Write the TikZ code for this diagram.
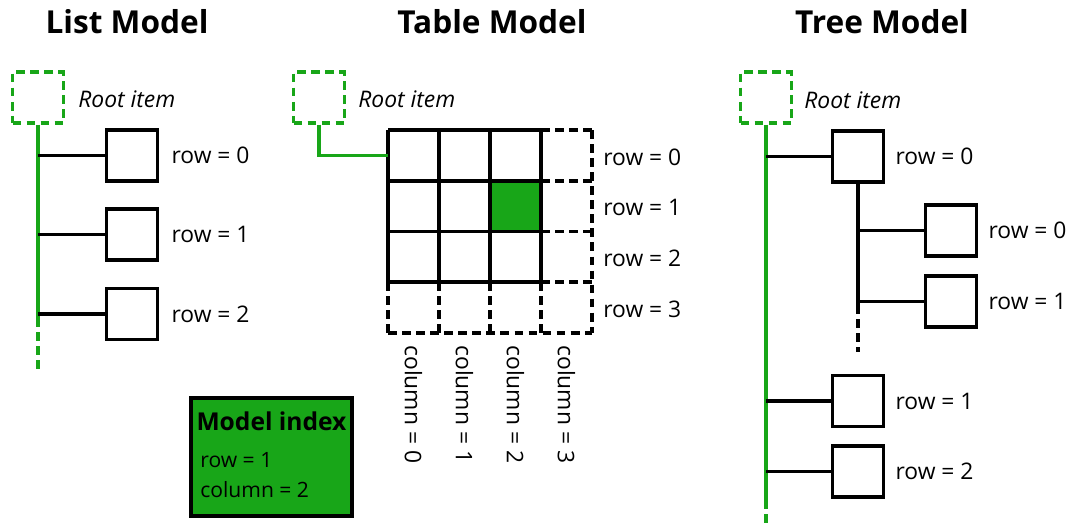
\documentclass[tikz,border=0pt]{standalone}
\usepackage{fontspec}
\setmainfont{Open Sans}
\usetikzlibrary{positioning}
\definecolor{qtgreen}{RGB}{24,166,24}
\tikzset{
	item/.style={draw, line width=2pt, minimum size=1.02cm, inner sep=0pt},
	rootitem/.style={item, line width=1.8pt, draw=qtgreen, dash pattern=on 5pt off 3pt},
	link/.style={line width=2pt},
	dashlink/.style={line width=2pt, dash pattern=on 5pt off 3pt},
	glink/.style={line width=1.8pt, draw=qtgreen},
	gdash/.style={glink, dash pattern=on 5pt off 3pt},
	lbl/.style={font=\fontsize{13}{15}\selectfont, anchor=west, inner sep=0pt},
	rootlbl/.style={lbl, font=\fontsize{13}{15}\selectfont\itshape},
	title/.style={font=\fontsize{18}{22}\selectfont\bfseries},
}

\begin{document}
\begin{tikzpicture}[x=0.02cm, y=-0.02cm]
		%%%%% START %%%%%
		\useasboundingbox (0, 0) rectangle (1073, 524);
		
		%%%%% LIST %%%%%
		\node[title] (listtitle) at (127, 22) {List Model};
		\node[rootitem] (lroot) at (38, 97.5) {};
		\node[rootlbl] (lrootlbl) at (78, 99) {Root item};
		
		\node[item] (l0) at (132, 155.5) {};
		\node[item] (l1) at (132, 234.5) {};
		\node[item] (l2) at (132, 314) {};
		\node[lbl, right=0.24cm of l0] {row = 0};
		\node[lbl, right=0.24cm of l1] {row = 1};
		\node[lbl, right=0.24cm of l2] {row = 2};
		
		\coordinate (lend) at (38, 318);
		\coordinate (ltail) at (38, 370);
		\draw[glink] (lroot.south) -- (lend);
		\draw[gdash] (lend) -- (ltail);
		\draw[link] (l0.west) -- (l0.west -| lroot);
		\draw[link] (l1.west) -- (l1.west -| lroot);
		\draw[link] (l2.west) -- (l2.west -| lroot);
		
		%%%%% TABLE %%%%%
		\node[title] (tabletitle) at (492, 22) {Table Model};
		\node[rootitem] (troot) at (319, 97.5) {};
		\node[rootlbl] (trootlbl) at (358, 99) {Root item};
		
		\node[draw=none, fill=qtgreen, minimum width=1.02cm, minimum height=1.015cm, inner sep=0pt] (t12) at (515.5, 206) {};
		\foreach \k in {0,...,3} {
			\draw[link] (388, 130+50.75*\k) -- (541, 130+50.75*\k);
			\draw[dashlink] (541, 130+50.75*\k) -- (592, 130+50.75*\k);
			\draw[link] (388+51*\k, 130) -- (388+51*\k, 282);
			\draw[dashlink] (388+51*\k, 282) -- (388+51*\k, 333);
		}
		\draw[dashlink] (592, 130) -- (592, 333);
		\draw[dashlink] (388, 333) -- (592, 333);
		
		\coordinate (tentry) at (388, 155.4);
		\draw[glink] (troot.south) |- (tentry);
		
		\foreach \k in {0,...,3} {
			\node[lbl] (trow\k) at (603, 157+50.75*\k) {row = \k};
			\node[lbl, rotate=-90] (tcol\k) at (413.5+51*\k, 345) {column = \k};
		}
		
		\node[draw, line width=2.5pt, fill=qtgreen, minimum width=3.22cm, minimum height=2.36cm] (index) at (271.5, 457) {};
		\node[font=\fontsize{14}{16}\selectfont\bfseries, inner sep=0pt] (indextitle) at (271.5, 421) {Model index};
		\node[lbl, font=\fontsize{12}{14}\selectfont] (indexrow) at (200, 460) {row = 1};
		\node[lbl, font=\fontsize{12}{14}\selectfont] (indexcol) at (200, 490) {column = 2};
		
		%%%%% TREE %%%%%
		\node[title] (treetitle) at (882, 22) {Tree Model};
		\node[rootitem] (rroot) at (766, 97.5) {};
		\node[rootlbl] (rrootlbl) at (804, 100) {Root item};
		
		\node[item] (r0) at (858, 156.5) {};
		\node[item] (r00) at (951, 230.5) {};
		\node[item] (r01) at (951, 301.5) {};
		\node[item] (r1) at (858, 401) {};
		\node[item] (r2) at (858, 471.5) {};
		\node[lbl, right=0.2cm of r0] {row = 0};
		\node[lbl, right=0.2cm of r00] {row = 0};
		\node[lbl, right=0.2cm of r01] {row = 1};
		\node[lbl, right=0.2cm of r1] {row = 1};
		\node[lbl, right=0.2cm of r2] {row = 2};
		
		\coordinate (rend) at (766, 500);
		\coordinate (rtail) at (766, 524);
		\draw[glink] (rroot.south) -- (rend);
		\draw[gdash] (rend) -- (rtail);
		\draw[link] (r0.west) -- (r0.west -| rroot);
		\draw[link] (r1.west) -- (r1.west -| rroot);
		\draw[link] (r2.west) -- (r2.west -| rroot);
		
		\coordinate (r0end) at (858, 305);
		\coordinate (r0tail) at (858, 352);
		\draw[link] (r0.south) -- (r0end);
		\draw[dashlink] (r0end) -- (r0tail);
		\draw[link] (r00.west) -- (r00.west -| r0);
		\draw[link] (r01.west) -- (r01.west -| r0);
		%%%%% END %%%%%
	\end{tikzpicture}
\end{document}
